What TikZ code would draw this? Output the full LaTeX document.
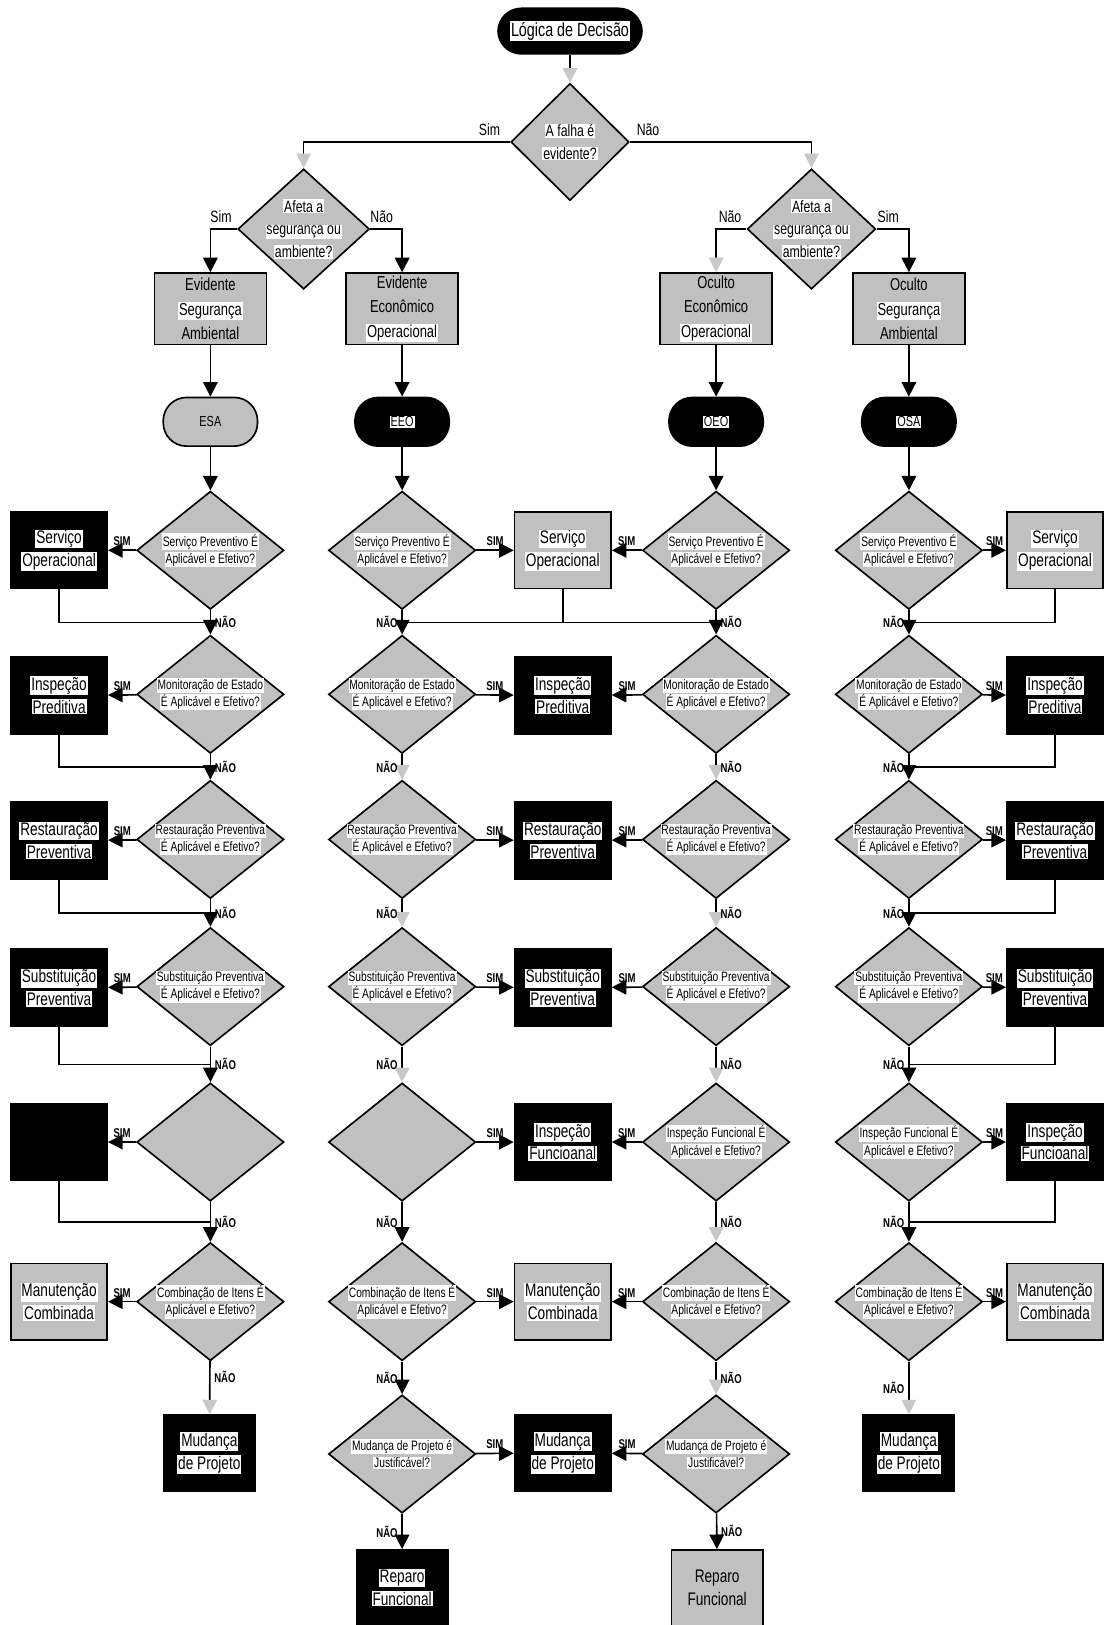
\documentclass[tikz,border=0pt]{standalone}
\usepackage{fontspec}
\setmainfont{Liberation Sans}[FakeStretch=0.75]
\usepackage{tikz}
\usetikzlibrary{shapes.geometric,arrows.meta,calc}
\definecolor{shapegray}{RGB}{192,192,192}
\definecolor{tipgray}{RGB}{200,200,200}
\setlength{\fboxsep}{0.5pt}
\newcommand{\hl}[1]{\colorbox{white}{#1}}
\newcommand{\zl}[1]{\makebox[0pt]{\hl{#1}}}
\newcommand{\diafont}{\fontsize{7.5}{9.5}\selectfont}
\newcommand{\sidefont}{\fontsize{10}{12.5}\selectfont}
\newcommand{\topfont}{\fontsize{9.5}{13.3}\selectfont}
\newcommand{\qfont}{\fontsize{9}{12.5}\selectfont}

\begin{document}
\begin{tikzpicture}[x=0.02cm, y=-0.02cm, line width=0.9pt,
  dia/.style={diamond, draw, fill=shapegray, inner sep=0pt, minimum width=2.84cm, minimum height=2.28cm, align=center, font=\diafont},
  qdia/.style={dia, font=\qfont},
  gbox/.style={rectangle, draw, fill=shapegray, minimum width=1.86cm, minimum height=1.48cm, inner sep=1pt, align=center, font=\sidefont},
  bbox/.style={gbox, fill=black},
  tbox/.style={gbox, minimum width=2.16cm, minimum height=1.38cm, font=\topfont},
  fbox/.style={bbox, minimum width=1.76cm, minimum height=1.46cm},
  term/.style={rectangle, rounded corners=0.45cm, draw, minimum width=1.82cm, minimum height=0.94cm, font=\fontsize{8}{9}\selectfont},
  arr/.style={-{Triangle[length=8pt,width=8pt]}},
  garr/.style={-{Triangle[length=8pt,width=8pt,color=tipgray]}},
  lbl/.style={font=\fontsize{7}{8}\selectfont\bfseries, inner sep=2pt},
  yn/.style={font=\qfont, inner sep=3pt}]
  \useasboundingbox (0,0) rectangle (1065,1568);

  \node[term, fill=black, minimum width=2.78cm, minimum height=0.88cm, font=\fontsize{10.5}{12}\selectfont] (logica) at (550,30) {\hl{Lógica de Decisão}};
  \node[qdia, minimum width=2.28cm, minimum height=2.26cm] (falha) at (550,137) {\zl{A falha é}\\\zl{evidente?}};
  \node[qdia, minimum width=2.54cm, minimum height=2.32cm] (afetaE) at (293,221) {\zl{Afeta a}\\\zl{segurança ou}\\\zl{ambiente?}};
  \node[qdia, minimum width=2.48cm, minimum height=2.32cm] (afetaO) at (783,221) {\zl{Afeta a}\\\zl{segurança ou}\\\zl{ambiente?}};
  \node[tbox] (evSA) at (203,298) {Evidente\\\hl{Segurança}\\Ambiental};
  \node[tbox] (evEO) at (388,298) {Evidente\\Econômico\\\hl{Operacional}};
  \node[tbox] (ocEO) at (691,298) {Oculto\\Econômico\\\hl{Operacional}};
  \node[tbox] (ocSA) at (877,298) {Oculto\\\hl{Segurança}\\Ambiental};
  \node[term, fill=shapegray] (esa) at (203,407) {ESA};
  \node[term, fill=black] (eeo) at (388,407) {\hl{EEO}};
  \node[term, fill=black] (oeo) at (691,407) {\hl{OEO}};
  \node[term, fill=black] (osa) at (877,407) {\hl{OSA}};

  \node[dia] (sva) at (203,531) {\zl{Serviço Preventivo É}\\\zl{Aplicável e Efetivo?}};
  \node[dia] (svb) at (388,531) {\zl{Serviço Preventivo É}\\\zl{Aplicável e Efetivo?}};
  \node[dia] (svc) at (691,531) {\zl{Serviço Preventivo É}\\\zl{Aplicável e Efetivo?}};
  \node[dia] (svd) at (877,531) {\zl{Serviço Preventivo É}\\\zl{Aplicável e Efetivo?}};
  \node[bbox] (svL) at (57,531) {\hl{Serviço}\\\hl{Operacional}};
  \node[gbox] (svM) at (543,531) {\hl{Serviço}\\\hl{Operacional}};
  \node[gbox] (svR) at (1018,531) {\hl{Serviço}\\\hl{Operacional}};

  \node[dia] (moa) at (203,670) {\zl{Monitoração de Estado}\\\zl{É Aplicável e Efetivo?}};
  \node[dia] (mob) at (388,670) {\zl{Monitoração de Estado}\\\zl{É Aplicável e Efetivo?}};
  \node[dia] (moc) at (691,670) {\zl{Monitoração de Estado}\\\zl{É Aplicável e Efetivo?}};
  \node[dia] (mod) at (877,670) {\zl{Monitoração de Estado}\\\zl{É Aplicável e Efetivo?}};
  \node[bbox] (moL) at (57,671) {\hl{Inspeção}\\\hl{Preditiva}};
  \node[bbox] (moM) at (543,671) {\hl{Inspeção}\\\hl{Preditiva}};
  \node[bbox] (moR) at (1018,671) {\hl{Inspeção}\\\hl{Preditiva}};

  \node[dia] (rea) at (203,810) {\zl{Restauração Preventiva}\\\zl{É Aplicável e Efetivo?}};
  \node[dia] (reb) at (388,810) {\zl{Restauração Preventiva}\\\zl{É Aplicável e Efetivo?}};
  \node[dia] (rec) at (691,810) {\zl{Restauração Preventiva}\\\zl{É Aplicável e Efetivo?}};
  \node[dia] (red) at (877,810) {\zl{Restauração Preventiva}\\\zl{É Aplicável e Efetivo?}};
  \node[bbox] (reL) at (57,811) {\hl{Restauração}\\\hl{Preventiva}};
  \node[bbox] (reM) at (543,811) {\hl{Restauração}\\\hl{Preventiva}};
  \node[bbox] (reR) at (1018,811) {\hl{Restauração}\\\hl{Preventiva}};

  \node[dia] (sua) at (203,952) {\zl{Substituição Preventiva}\\\zl{É Aplicável e Efetivo?}};
  \node[dia] (sub) at (388,952) {\zl{Substituição Preventiva}\\\zl{É Aplicável e Efetivo?}};
  \node[dia] (suc) at (691,952) {\zl{Substituição Preventiva}\\\zl{É Aplicável e Efetivo?}};
  \node[dia] (sud) at (877,952) {\zl{Substituição Preventiva}\\\zl{É Aplicável e Efetivo?}};
  \node[bbox] (suL) at (57,953) {\hl{Substituição}\\\hl{Preventiva}};
  \node[bbox] (suM) at (543,953) {\hl{Substituição}\\\hl{Preventiva}};
  \node[bbox] (suR) at (1018,953) {\hl{Substituição}\\\hl{Preventiva}};

  \node[dia] (ifa) at (203,1102) {};
  \node[dia] (ifb) at (388,1102) {};
  \node[dia] (ifc) at (691,1102) {\zl{Inspeção Funcional É}\\\zl{Aplicável e Efetivo?}};
  \node[dia] (ifd) at (877,1102) {\zl{Inspeção Funcional É}\\\zl{Aplicável e Efetivo?}};
  \node[bbox] (ifL) at (57,1102) {};
  \node[bbox] (ifM) at (543,1102) {\hl{Inspeção}\\\hl{Funcioanal}};
  \node[bbox] (ifR) at (1018,1102) {\hl{Inspeção}\\\hl{Funcioanal}};

  \node[dia] (cba) at (203,1256) {\zl{Combinação de Itens É}\\\zl{Aplicável e Efetivo?}};
  \node[dia] (cbb) at (388,1256) {\zl{Combinação de Itens É}\\\zl{Aplicável e Efetivo?}};
  \node[dia] (cbc) at (691,1256) {\zl{Combinação de Itens É}\\\zl{Aplicável e Efetivo?}};
  \node[dia] (cbd) at (877,1256) {\zl{Combinação de Itens É}\\\zl{Aplicável e Efetivo?}};
  \node[gbox] (cbL) at (57,1256) {\hl{Manutenção}\\\hl{Combinada}};
  \node[gbox] (cbM) at (543,1256) {\hl{Manutenção}\\\hl{Combinada}};
  \node[gbox] (cbR) at (1018,1256) {\hl{Manutenção}\\\hl{Combinada}};

  \node[dia] (mpb) at (388,1403) {\zl{Mudança de Projeto é}\\\zl{Justificável?}};
  \node[dia] (mpc) at (691,1403) {\zl{Mudança de Projeto é}\\\zl{Justificável?}};
  \node[bbox] (mpM) at (543,1402) {\hl{Mudança}\\\hl{de Projeto}};
  \node[fbox] (mdA) at (202,1402) {\hl{Mudança}\\\hl{de Projeto}};
  \node[fbox] (mdD) at (877,1402) {\hl{Mudança}\\\hl{de Projeto}};
  \node[fbox] (rpB) at (388,1532) {\hl{Reparo}\\\hl{Funcional}};
  \node[fbox, fill=shapegray] (rpC) at (692,1532) {Reparo\\Funcional};

  \coordinate (ja1) at ($(sva)!.5!(moa)$);
  \coordinate (ja2) at ($(moa)!.5!(rea)$);
  \coordinate (ja3) at ($(rea)!.5!(sua)$);
  \coordinate (ja4) at ($(sua)!.5!(ifa)$);
  \coordinate (ja5) at ($(ifa)!.5!(cba)$);
  \coordinate (jb1) at ($(svb)!.5!(mob)$);
  \coordinate (jc1) at ($(svc)!.5!(moc)$);
  \coordinate (jd1) at ($(svd)!.5!(mod)$);
  \coordinate (jd2) at ($(mod)!.5!(red)$);
  \coordinate (jd3) at ($(red)!.5!(sud)$);
  \coordinate (jd4) at ($(sud)!.5!(ifd)$);
  \coordinate (jd5) at ($(ifd)!.5!(cbd)$);

  \draw[garr] (logica) -- (falha);
  \draw[garr] (falha) -| node[yn, above, pos=.05] {Sim} (afetaE);
  \draw[garr] (falha) -| node[yn, above, pos=.05] {Não} (afetaO);
  \draw[arr] (afetaE) -| node[yn, above, pos=.3] {Sim} (evSA);
  \draw[arr] (afetaE) -| node[yn, above, pos=.18] {Não} (evEO);
  \draw[garr] (afetaO) -| node[yn, above, pos=.27] {Não} (ocEO);
  \draw[arr] (afetaO) -| node[yn, above, pos=.18] {Sim} (ocSA);
  \draw[arr] (evSA) -- (esa);
  \draw[arr] (evEO) -- (eeo);
  \draw[arr] (ocEO) -- (oeo);
  \draw[arr] (ocSA) -- (osa);
  \draw[arr] (esa) -- (sva);
  \draw[arr] (eeo) -- (svb);
  \draw[arr] (oeo) -- (svc);
  \draw[arr] (osa) -- (svd);

  \draw[arr] (sva) -- node[lbl, right] {NÃO} (moa);
  \draw[arr] (moa) -- node[lbl, right] {NÃO} (rea);
  \draw[arr] (rea) -- node[lbl, right] {NÃO} (sua);
  \draw[arr] (sua) -- node[lbl, right] {NÃO} (ifa);
  \draw[arr] (ifa) -- node[lbl, right] {NÃO} (cba);
  \draw[garr] (cba) -- node[lbl, right, pos=.3] {NÃO} (mdA);
  \draw[arr] (sva) -- node[lbl, above] {SIM} (svL);
  \draw[arr] (moa) -- node[lbl, above] {SIM} (moL);
  \draw[arr] (rea) -- node[lbl, above] {SIM} (reL);
  \draw[arr] (sua) -- node[lbl, above] {SIM} (suL);
  \draw[arr] (ifa) -- node[lbl, above] {SIM} (ifL);
  \draw[arr] (cba) -- node[lbl, above] {SIM} (cbL);
  \draw (svL) |- (ja1);
  \draw (moL) |- (ja2);
  \draw (reL) |- (ja3);
  \draw (suL) |- (ja4);
  \draw (ifL) |- (ja5);

  \draw[arr] (svb) -- node[lbl, left] {NÃO} (mob);
  \draw[garr] (mob) -- node[lbl, left] {NÃO} (reb);
  \draw[garr] (reb) -- node[lbl, left] {NÃO} (sub);
  \draw[garr] (sub) -- node[lbl, left] {NÃO} (ifb);
  \draw[arr] (ifb) -- node[lbl, left] {NÃO} (cbb);
  \draw[arr] (cbb) -- node[lbl, left] {NÃO} (mpb);
  \draw[arr] (mpb) -- node[lbl, left] {NÃO} (rpB);
  \draw[arr] (svb) -- node[lbl, above] {SIM} (svM);
  \draw[arr] (mob) -- node[lbl, above] {SIM} (moM);
  \draw[arr] (reb) -- node[lbl, above] {SIM} (reM);
  \draw[arr] (sub) -- node[lbl, above] {SIM} (suM);
  \draw[arr] (ifb) -- node[lbl, above] {SIM} (ifM);
  \draw[arr] (cbb) -- node[lbl, above] {SIM} (cbM);
  \draw[arr] (mpb) -- node[lbl, above] {SIM} (mpM);
  \draw (svM) |- (jb1);
  \draw (svM) |- (jc1);

  \draw[arr] (svc) -- node[lbl, right] {NÃO} (moc);
  \draw[garr] (moc) -- node[lbl, right] {NÃO} (rec);
  \draw[garr] (rec) -- node[lbl, right] {NÃO} (suc);
  \draw[garr] (suc) -- node[lbl, right] {NÃO} (ifc);
  \draw[garr] (ifc) -- node[lbl, right] {NÃO} (cbc);
  \draw[garr] (cbc) -- node[lbl, right] {NÃO} (mpc);
  \draw[arr] (mpc) -- node[lbl, right] {NÃO} (rpC);
  \draw[arr] (svc) -- node[lbl, above] {SIM} (svM);
  \draw[arr] (moc) -- node[lbl, above] {SIM} (moM);
  \draw[arr] (rec) -- node[lbl, above] {SIM} (reM);
  \draw[arr] (suc) -- node[lbl, above] {SIM} (suM);
  \draw[arr] (ifc) -- node[lbl, above] {SIM} (ifM);
  \draw[arr] (cbc) -- node[lbl, above] {SIM} (cbM);
  \draw[arr] (mpc) -- node[lbl, above] {SIM} (mpM);

  \draw[arr] (svd) -- node[lbl, left] {NÃO} (mod);
  \draw[arr] (mod) -- node[lbl, left] {NÃO} (red);
  \draw[arr] (red) -- node[lbl, left] {NÃO} (sud);
  \draw[arr] (sud) -- node[lbl, left] {NÃO} (ifd);
  \draw[arr] (ifd) -- node[lbl, left] {NÃO} (cbd);
  \draw[garr] (cbd) -- node[lbl, left] {NÃO} (mdD);
  \draw[arr] (svd) -- node[lbl, above] {SIM} (svR);
  \draw[arr] (mod) -- node[lbl, above] {SIM} (moR);
  \draw[arr] (red) -- node[lbl, above] {SIM} (reR);
  \draw[arr] (sud) -- node[lbl, above] {SIM} (suR);
  \draw[arr] (ifd) -- node[lbl, above] {SIM} (ifR);
  \draw[arr] (cbd) -- node[lbl, above] {SIM} (cbR);
  \draw (svR) |- (jd1);
  \draw (moR) |- (jd2);
  \draw (reR) |- (jd3);
  \draw (suR) |- (jd4);
  \draw (ifR) |- (jd5);
\end{tikzpicture}
\end{document}
